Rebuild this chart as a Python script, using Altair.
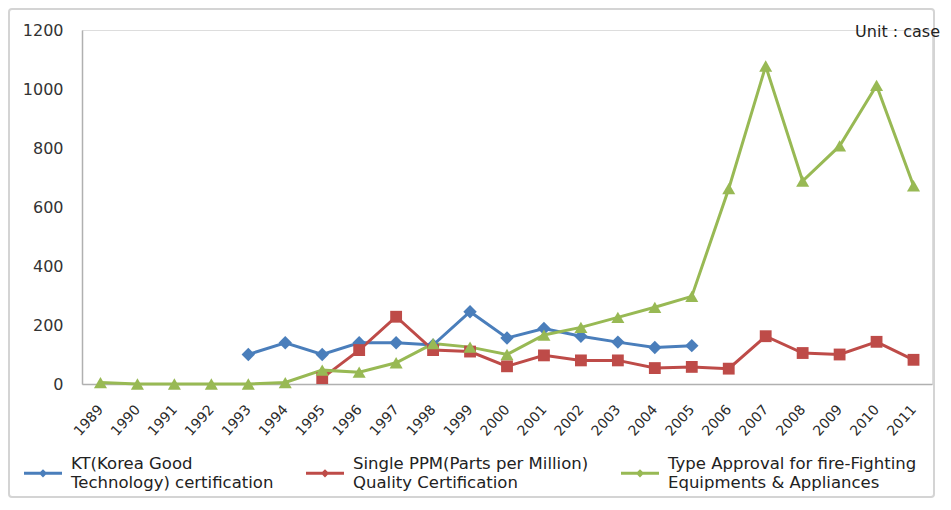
import altair as alt
import pandas as pd

# ---- data ----
SERIES = [
    "KT(Korea Good Technology) certification",
    "Single PPM(Parts per Million) Quality Certification",
    "Type Approval for fire-Fighting Equipments & Appliances",
]
YEARS = ["1989", "1990", "1991", "1992", "1993", "1994", "1995", "1996", "1997",
         "1998", "1999", "2000", "2001", "2002", "2003", "2004", "2005", "2006",
         "2007", "2008", "2009", "2010", "2011"]

kt_years = ["1993", "1994", "1995", "1996", "1997", "1998", "1999", "2000",
            "2001", "2002", "2003", "2004", "2005"]
kt_values = [100, 140, 100, 140, 140, 132, 245, 156, 188, 162, 142, 124, 130]

ppm_years = ["1995", "1996", "1997", "1998", "1999", "2000", "2001", "2002",
             "2003", "2004", "2005", "2006", "2007", "2008", "2009", "2010", "2011"]
ppm_values = [20, 115, 228, 115, 110, 60, 97, 80, 80, 54, 58, 52, 162, 105, 100, 143, 82]

ta_years = YEARS
ta_values = [5, 0, 0, 0, 0, 5, 47, 40, 72, 137, 125, 100, 166, 192, 226, 260,
             297, 662, 1078, 688, 807, 1012, 672]

COLORS = ["#4A7EBB", "#BE4B48", "#98B954"]
SHAPES = ["diamond", "square", "triangle-up"]
SIZES = [180, 140, 170]

rows = []
for name, ys, vs in zip(SERIES, [kt_years, ppm_years, ta_years],
                        [kt_values, ppm_values, ta_values]):
    for y, v in zip(ys, vs):
        rows.append({"series": name, "year": y, "value": v})
df = pd.DataFrame(rows)

FONT = "DejaVu Sans"
W, H = 850, 354

x_enc = alt.X("year:O", sort=YEARS, scale=alt.Scale(domain=YEARS, padding=0.5),
              axis=alt.Axis(title=None, labelAngle=-48, labelAlign="right",
                            labelBaseline="middle", ticks=False,
                            domainColor="#b0b0b0", domainWidth=1.5,
                            labelFontSize=14, labelColor="#2a2a2a",
                            labelPadding=23))
y_enc = alt.Y("value:Q", scale=alt.Scale(domain=[0, 1200], nice=False),
              axis=alt.Axis(title=None, values=[0, 200, 400, 600, 800, 1000, 1200],
                            format="d", ticks=False, grid=False, domainColor="#b0b0b0",
                            domainWidth=1.5, labelFontSize=16, labelColor="#333333",
                            labelPadding=19))
color_scale = alt.Scale(domain=SERIES, range=COLORS)

label_expr = (
    "datum.label == '" + SERIES[0] + "' ? ['KT(Korea Good', 'Technology) certification'] : "
    "datum.label == '" + SERIES[1] + "' ? ['Single PPM(Parts per Million)\u00a0\u00a0', 'Quality Certification'] : "
    "['Type Approval for fire-Fighting', 'Equipments & Appliances']"
)

legend = alt.Legend(
    title=None, orient="none", legendX=-58, legendY=415,
    direction="horizontal",
    symbolType="M-1,0.41H1V0.57H-1Z M0,0.27L0.22,0.49L0,0.71L-0.22,0.49Z",
    symbolSize=1444, symbolStrokeWidth=0, symbolOpacity=1,
    labelExpr=label_expr, labelFontSize=16.5, labelLimit=0,
    labelColor="#222222", labelFont=FONT,
    labelOffset=9, columnPadding=32)

base = alt.Chart(df)

lines = base.mark_line(strokeWidth=3).encode(
    x=x_enc, y=y_enc,
    color=alt.Color("series:N", scale=color_scale, legend=legend),
    detail="series:N",
)

point_layers = []
for name, shape, size in zip(SERIES, SHAPES, SIZES):
    point_layers.append(
        base.transform_filter(alt.datum.series == name)
        .mark_point(filled=True, opacity=1, size=size, shape=shape)
        .encode(x=x_enc, y=y_enc,
                color=alt.Color("series:N", scale=color_scale, legend=legend))
    )

unit = alt.Chart(pd.DataFrame({"t": ["Unit : case"]})).mark_text(
    align="right", baseline="middle", fontSize=16, font=FONT, color="#222222"
).encode(text="t:N", x=alt.value(858), y=alt.value(2))

frame = alt.Chart(pd.DataFrame({"a": [0]})).mark_rect(
    fillOpacity=0, stroke="#d4d4d4", strokeWidth=2, cornerRadius=3
).encode(x=alt.value(-73), x2=alt.value(852), y=alt.value(-21), y2=alt.value(467))

chart = alt.layer(frame, lines, *point_layers, unit).properties(
    width=W, height=H,
    autosize=alt.AutoSizeParams(type="none"),
    padding={"left": 74, "top": 22, "right": 11, "bottom": 114},
).configure_view(stroke=None).configure(font=FONT).configure_axis(labelFont=FONT)

chart.save("out.html", embed_options={"renderer": "svg", "actions": False})
